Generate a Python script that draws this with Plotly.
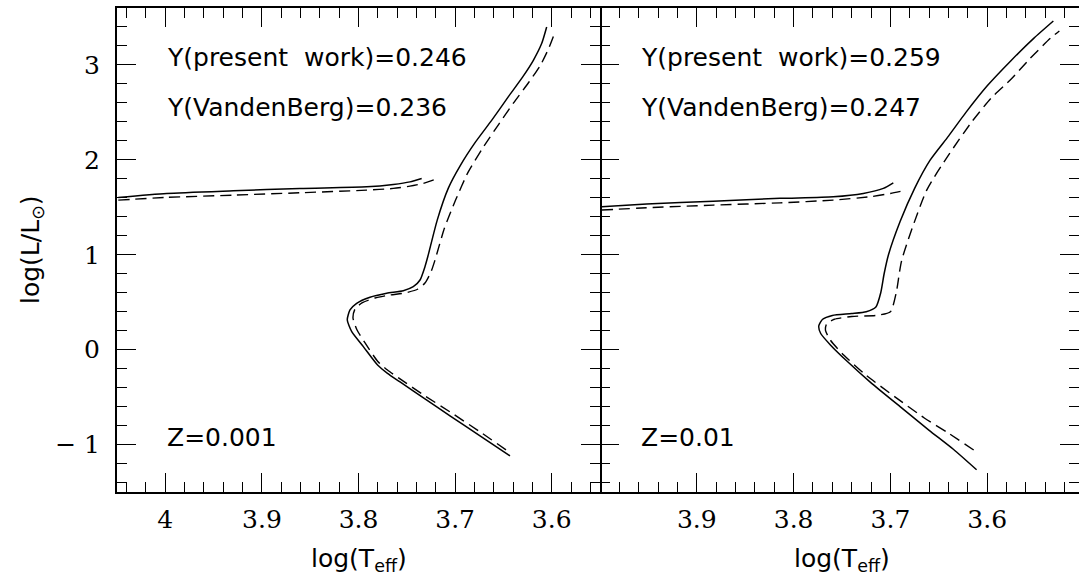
import plotly.graph_objects as go

# ---- Z = 0.001 panel -------------------------------------------------------
# main isochrone (MS -> turnoff -> subgiant -> RGB), present work
l_main_solid_T = [3.6432, 3.6742, 3.7053, 3.7312, 3.757, 3.7700, 3.7800, 3.795, 3.807, 3.8116,
                  3.8088, 3.8019, 3.7881, 3.7708, 3.7536, 3.7433, 3.7363, 3.7312, 3.7281,
                  3.7185, 3.7070, 3.6945, 3.6790, 3.6620, 3.6450, 3.6300, 3.619, 3.6104, 3.6052]
l_main_solid_L = [-1.119, -0.908, -0.698, -0.519, -0.340, -0.250, -0.165, 0.032, 0.189, 0.313,
                  0.418, 0.488, 0.552, 0.594, 0.621, 0.663, 0.734, 0.874, 0.986,
                  1.365, 1.702, 1.942, 2.186, 2.418, 2.663, 2.874, 3.049, 3.225, 3.40]
# main isochrone, VandenBerg
l_main_dash_T = [3.6473, 3.6742, 3.7053, 3.7312, 3.757, 3.7700, 3.7800, 3.7932, 3.8015, 3.8057,
                 3.8036, 3.7964, 3.7829, 3.7674, 3.7519, 3.7384, 3.7312, 3.725, 3.7208,
                 3.7110, 3.6995, 3.6865, 3.6715, 3.6545, 3.6395, 3.6235, 3.6115, 3.6030, 3.5966]
l_main_dash_L = [-1.056, -0.866, -0.656, -0.487, -0.308, -0.215, -0.125, 0.071, 0.207, 0.334,
                 0.429, 0.492, 0.544, 0.576, 0.597, 0.639, 0.702, 0.818, 0.944,
                 1.281, 1.576, 1.871, 2.123, 2.380, 2.600, 2.820, 3.000, 3.176, 3.344]
# horizontal branch
l_hb_solid_T = [4.0487, 3.9986, 3.9296, 3.8606, 3.7915, 3.764, 3.7467, 3.7346]
l_hb_solid_L = [1.604, 1.646, 1.674, 1.699, 1.716, 1.741, 1.768, 1.804]
l_hb_dash_T = [4.0487, 3.9986, 3.9296, 3.8606, 3.7915, 3.764, 3.7467, 3.7329, 3.7208]
l_hb_dash_L = [1.576, 1.604, 1.628, 1.653, 1.681, 1.699, 1.723, 1.752, 1.794]

# ---- Z = 0.01 panel --------------------------------------------------------
r_main_solid_T = [3.611, 3.635, 3.66, 3.69, 3.72, 3.745, 3.762, 3.772, 3.774, 3.77, 3.76,
                  3.74, 3.725, 3.715, 3.710, 3.7065, 3.7020, 3.690, 3.675, 3.659, 3.640,
                  3.622, 3.600, 3.575, 3.552, 3.5317]
r_main_solid_L = [-1.266, -1.05, -0.85, -0.6, -0.35, -0.12, 0.05, 0.17, 0.25, 0.32, 0.36,
                  0.38, 0.40, 0.45, 0.6, 0.8, 1.0, 1.35, 1.7, 1.997, 2.25,
                  2.50, 2.78, 3.05, 3.28, 3.463]
r_main_dash_T = [3.614, 3.64, 3.665, 3.695, 3.725, 3.748, 3.762, 3.767, 3.766, 3.758, 3.74,
                 3.715, 3.700, 3.694, 3.6883, 3.6625, 3.640, 3.6160, 3.5960, 3.5747, 3.5558,
                 3.5351, 3.5255]
r_main_dash_L = [-1.057, -0.88, -0.72, -0.5, -0.27, -0.06, 0.1, 0.2, 0.27, 0.32, 0.35,
                 0.36, 0.4, 0.6, 0.944, 1.681, 2.05, 2.40, 2.65, 2.857, 3.067,
                 3.278, 3.358]
r_hb_solid_T = [3.9982, 3.9518, 3.883, 3.814, 3.759, 3.728, 3.7073, 3.697]
r_hb_solid_L = [1.505, 1.534, 1.565, 1.594, 1.611, 1.646, 1.699, 1.758]
r_hb_dash_T = [3.9982, 3.9518, 3.883, 3.814, 3.759, 3.721, 3.700, 3.6867]
r_hb_dash_L = [1.471, 1.495, 1.523, 1.547, 1.576, 1.611, 1.646, 1.674]

# axis ticks
x_major_left = [4.0, 3.9, 3.8, 3.7, 3.6]
x_text_left = ["4", "3.9", "3.8", "3.7", "3.6"]
x_major_right = [3.9, 3.8, 3.7, 3.6]
x_text_right = ["3.9", "3.8", "3.7", "3.6"]
y_major = [-1, 0, 1, 2, 3]
y_text = ["\u2212 1", "0", "1", "2", "3"]

panel_text = {
    "left": ["Y(present\u00a0 work)=0.246", "Y(VandenBerg)=0.236", "Z=0.001"],
    "right": ["Y(present\u00a0 work)=0.259", "Y(VandenBerg)=0.247", "Z=0.01"],
}

W, H = 1079, 577
ML, MR, MT, MB = 117, 0, 8, 85
plot_w = W - ML - MR
split = (600 - ML) / plot_w

fig = go.Figure()
solid = dict(color="black", width=1.5, shape="spline", smoothing=0.6)
dashed = dict(color="black", width=1.4, dash="11px,6px", shape="spline", smoothing=0.6)

for T, L, ln, xa in [
    (l_main_solid_T, l_main_solid_L, solid, "x"),
    (l_main_dash_T, l_main_dash_L, dashed, "x"),
    (l_hb_solid_T, l_hb_solid_L, solid, "x"),
    (l_hb_dash_T, l_hb_dash_L, dashed, "x"),
    (r_main_solid_T, r_main_solid_L, solid, "x2"),
    (r_main_dash_T, r_main_dash_L, dashed, "x2"),
    (r_hb_solid_T, r_hb_solid_L, solid, "x2"),
    (r_hb_dash_T, r_hb_dash_L, dashed, "x2"),
]:
    fig.add_trace(go.Scatter(x=T, y=L, mode="lines", line=ln, xaxis=xa,
                             yaxis="y" if xa == "x" else "y2",
                             showlegend=False, hoverinfo="skip"))

tickfont = dict(family="DejaVu Serif", size=25, color="black")
common_x = dict(showline=True, linecolor="black", linewidth=2, mirror="ticks",
                ticks="inside", ticklen=19, tickwidth=1.3, tickcolor="black",
                showgrid=False, zeroline=False, tickfont=tickfont,
                tickmode="array", ticklabelstandoff=4,
                minor=dict(ticks="inside", ticklen=10, tickwidth=1.3, tickcolor="black",
                           tickmode="linear", tick0=4.0, dtick=0.02, showgrid=False))
common_y = dict(linecolor="black", linewidth=2, mirror="ticks",
                ticks="inside", ticklen=19, tickwidth=1.3, tickcolor="black",
                showgrid=False, zeroline=False, tickfont=tickfont, range=[-1.5, 3.6],
                tickmode="array", tickvals=y_major, ticktext=y_text,
                minor=dict(ticks="inside", ticklen=10, tickwidth=1.3, tickcolor="black",
                           tickmode="linear", tick0=0, dtick=0.2, showgrid=False))

fig.update_layout(
    width=W, height=H,
    margin=dict(l=ML, r=MR, t=MT, b=MB, pad=0),
    paper_bgcolor="white", plot_bgcolor="white",
    xaxis=dict(domain=[0, split], range=[4.05, 3.55], tickvals=x_major_left,
               ticktext=x_text_left, anchor="y", **common_x),
    xaxis2=dict(domain=[split, 1.0], range=[4.0, 3.5052], tickvals=x_major_right,
                ticktext=x_text_right, anchor="y2", **common_x),
    yaxis=dict(anchor="x", showline=True, ticklabelstandoff=10, **common_y),
    yaxis2=dict(anchor="x2", showline=False, showticklabels=False, **common_y),
)

def py2paper(py):
    return (H - MB - py) / (H - MT - MB)

def px2paper(px):
    return (px - ML) / plot_w

lab_font = dict(family="DejaVu Sans", size=25, color="black")
for key, x0 in [("left", 165), ("right", 639)]:
    t1, t2, t3 = panel_text[key]
    for txt, py in [(t1, 58), (t2, 108), (t3, 437)]:
        fig.add_annotation(text=txt, xref="paper", yref="paper",
                           x=px2paper(x0), y=py2paper(py), xanchor="left",
                           yanchor="middle", showarrow=False, font=lab_font)

# axis titles
for cx in [(ML + 600) / 2, (600 + 1084) / 2]:
    fig.add_annotation(text="log(T<sub>eff</sub>)", xref="paper", yref="paper",
                       x=px2paper(cx), y=py2paper(560), xanchor="center",
                       yanchor="middle", showarrow=False,
                       font=dict(family="DejaVu Sans", size=25, color="black"))
fig.add_annotation(text="log(L/L<sub>\u2299</sub>)", xref="paper", yref="paper",
                   x=px2paper(32), y=py2paper(250), xanchor="center",
                   yanchor="middle", textangle=-90, showarrow=False,
                   font=dict(family="DejaVu Sans", size=25, color="black"))

fig.write_html("out.html")
